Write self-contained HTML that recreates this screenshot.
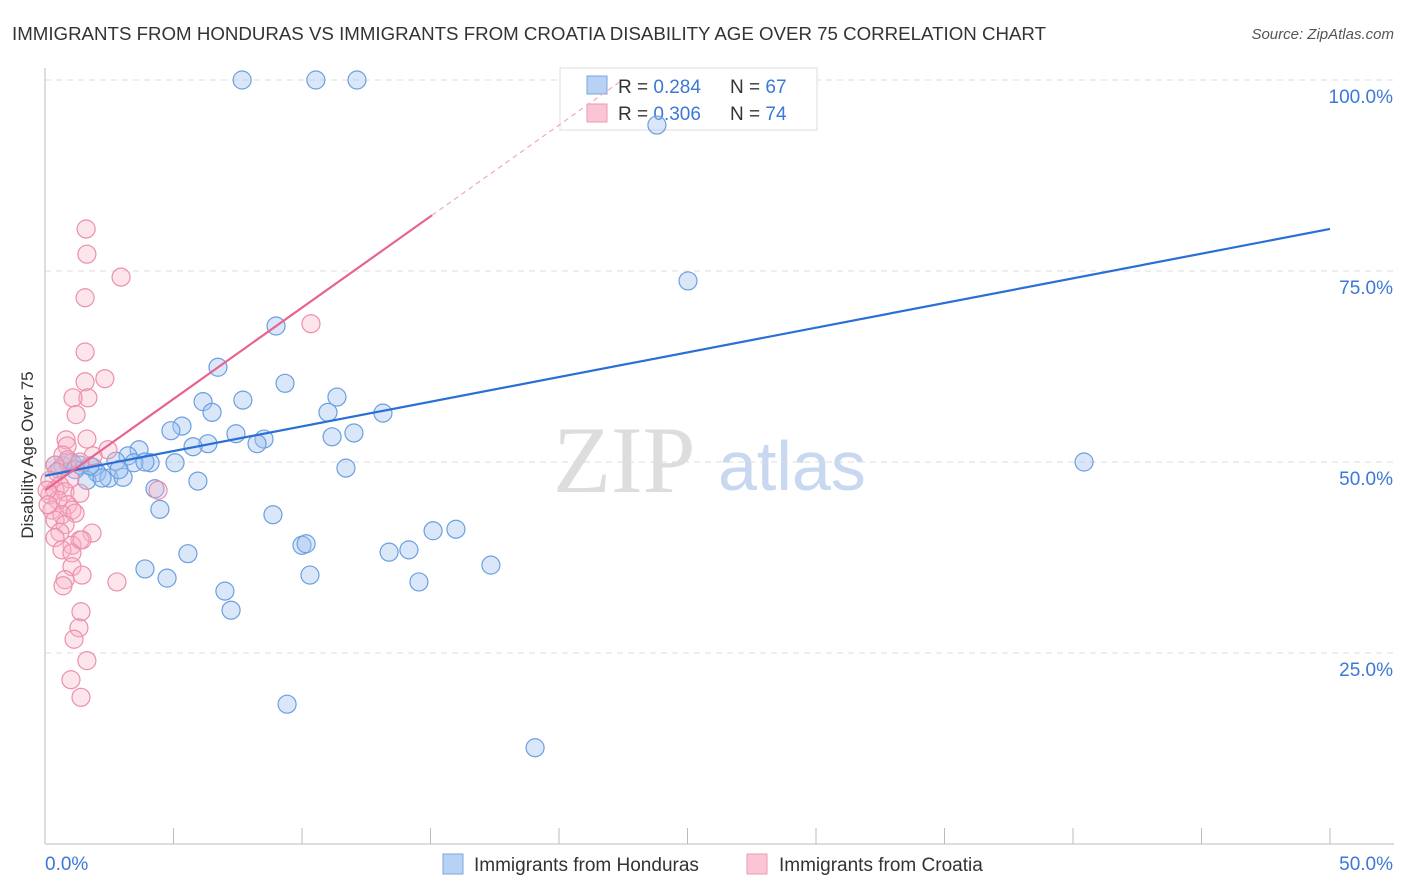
<!DOCTYPE html>
<html><head><meta charset="utf-8"><style>
body{margin:0;background:#fff;font-family:"Liberation Sans",sans-serif}
svg{display:block}
</style></head><body>
<svg id="c" width="1406" height="892" xmlns="http://www.w3.org/2000/svg">
<text x="12" y="40" font-size="18" fill="#333" textLength="1034" lengthAdjust="spacingAndGlyphs">IMMIGRANTS FROM HONDURAS VS IMMIGRANTS FROM CROATIA DISABILITY AGE OVER 75 CORRELATION CHART</text>
<text x="1394" y="39" font-size="15" fill="#555" font-style="italic" text-anchor="end">Source: ZipAtlas.com</text>
<text x="33" y="455" font-size="17" fill="#333" text-anchor="middle" transform="rotate(-90 33 455)">Disability Age Over 75</text>
<text x="553" y="492" font-size="95" fill="#ddd" font-family="Liberation Serif,serif">ZIP</text>
<text x="718" y="490" font-size="70" fill="#c8d8f0">atlas</text>
<g id="grid"></g>
<g>
<rect x="560" y="68" width="257" height="62" fill="#fff" stroke="#ddd"/>
<rect x="587" y="76" width="20" height="18" fill="#b8d2f5" stroke="#7aa6e0"/>
<rect x="587" y="104" width="20" height="18" fill="#fac5d4" stroke="#ee9ab2"/>
<text x="618" y="93" font-size="19" fill="#333">R = <tspan fill="#3b78d8">0.284</tspan></text>
<text x="730" y="93" font-size="19" fill="#333">N = <tspan fill="#3b78d8">67</tspan></text>
<text x="618" y="120" font-size="19" fill="#333">R = <tspan fill="#3b78d8">0.306</tspan></text>
<text x="730" y="120" font-size="19" fill="#333">N = <tspan fill="#3b78d8">74</tspan></text>
</g>
<g id="pts"></g><g id="lines"></g>
<g>
<rect x="443" y="854" width="20" height="20" fill="#b8d2f5" stroke="#7aa6e0"/>
<text x="474" y="871" font-size="19" fill="#333">Immigrants from Honduras</text>
<rect x="747" y="854" width="20" height="20" fill="#fac5d4" stroke="#ee9ab2"/>
<text x="779" y="871" font-size="19" fill="#333">Immigrants from Croatia</text>
</g>
</svg>
<script>
const blueX=[7.67,10.54,12.14,23.81,25.02,8.99,6.73,9.34,6.15,7.70,11.36,11.01,13.15,6.50,5.33,4.90,7.43,8.52,6.34,5.76,8.25,11.17,12.02,3.66,3.23,2.76,4.09,5.06,3.46,11.71,40.43,0.39,1.05,1.87,2.02,2.49,3.04,1.63,5.95,4.28,4.47,8.87,15.10,15.99,10.00,10.16,5.56,13.39,14.16,3.89,4.75,10.31,17.35,14.55,7.00,7.24,9.42,19.07,0.70,2.22,0.58,1.36,0.89,1.75,1.17,2.88,3.89];
const blueY=[100,100,100,94.1,73.7,67.8,62.4,60.3,57.9,58.1,58.5,56.5,56.4,56.5,54.7,54.1,53.7,53.0,52.4,52.0,52.4,53.3,53.8,51.6,50.8,50.1,49.9,49.9,49.9,49.2,50.0,49.6,49.9,49.3,48.6,47.9,48.0,47.6,47.5,46.5,43.8,43.1,41.0,41.2,39.1,39.3,38.0,38.2,38.5,36.0,34.8,35.2,36.5,34.3,33.1,30.6,18.3,12.6,49.5,47.9,49.0,49.6,50.0,49.5,49.0,49.0,50.0];
const pinkX=[1.60,1.63,2.96,1.56,10.35,1.56,2.33,1.56,1.67,1.09,1.21,0.82,1.63,0.86,2.45,1.87,0.70,0.89,1.36,0.39,0.47,0.97,0.19,0.58,0.39,0.78,1.36,0.19,4.40,0.51,0.89,0.27,1.05,0.66,1.17,0.39,0.78,0.58,1.83,1.36,0.39,1.05,0.66,1.05,1.44,1.05,1.44,0.78,2.80,0.70,1.40,1.32,1.13,1.63,1.01,1.40,0.08,0.12];
const pinkY=[80.5,77.2,74.2,71.5,68.1,64.4,60.9,60.5,58.4,58.4,56.2,52.9,53.0,52.1,51.6,50.8,50.9,50.3,50.0,49.6,48.7,47.8,47.6,46.9,46.3,46.1,45.9,45.7,46.3,45.0,44.4,43.7,43.7,43.1,43.3,42.4,41.8,40.8,40.7,39.8,40.1,39.1,38.5,38.1,39.8,36.3,35.2,34.6,34.3,33.8,30.4,28.3,26.8,24.0,21.5,19.2,46.3,44.4];
const yTicks=[25,50,75,100];
const xTicks=[0,5,10,15,20,25,30,35,40,45,50];
const blueTrend=[48.2,80.5];
const pinkTrend=[46.3,2.39];
const sx=v=>45+v*25.7, sy=v=>844-v*7.64;
const NS="http://www.w3.org/2000/svg";
function mk(t,a,p){const e=document.createElementNS(NS,t);for(const k in a)e.setAttribute(k,a[k]);p.appendChild(e);return e;}
const g=document.getElementById('grid');
yTicks.forEach(t=>{
 const l=mk('line',{x1:45,x2:1394,y1:sy(t),y2:sy(t),stroke:'#ddd','stroke-dasharray':'6,5'},g);
 
 
 const tx=mk('text',{x:1393,y:sy(t)+23,'font-size':19,fill:'#3b78d8','text-anchor':'end'},g);
 tx.textContent=t.toFixed(1)+'%';
 
 
});
mk('line',{x1:45,x2:45,y1:68,y2:844,stroke:'#bbb'},g);
mk('line',{x1:45,x2:1394,y1:844,y2:844,stroke:'#bbb'},g);
xTicks.forEach(t=>{
 const l=mk('line',{x1:sx(t),x2:sx(t),y1:828,y2:844,stroke:'#bbb'},g);
 
 
});
const xl0=mk('text',{x:45,y:870,'font-size':19,fill:'#3b78d8'},g);xl0.textContent='0.0%';


const xl1=mk('text',{x:1393,y:870,'font-size':19,fill:'#3b78d8','text-anchor':'end'},g);xl1.textContent='50.0%';


const p=document.getElementById('pts');
blueX.forEach((x,i)=>{
 const c=mk('circle',{cx:sx(x),cy:sy(blueY[i]),r:9,fill:'rgba(160,195,240,0.4)',stroke:'#6b9fe0','stroke-width':1.2},p);
 
 
});
pinkX.forEach((x,i)=>{
 const c=mk('circle',{cx:sx(x),cy:sy(pinkY[i]),r:9,fill:'rgba(248,180,200,0.35)',stroke:'#ec8fab','stroke-width':1.2},p);
 
 
});
const L=document.getElementById('lines');
const bl=mk('line',{x1:sx(0),y1:sy(blueTrend[0]),x2:sx(50),y2:sy(blueTrend[1]),stroke:'#2a6fd6','stroke-width':2.2},L);


const xe=15.06, xd=(100-pinkTrend[0])/pinkTrend[1];
const pl=mk('line',{x1:sx(0),y1:sy(pinkTrend[0]),x2:sx(xe),y2:sy(pinkTrend[0]+pinkTrend[1]*xe),stroke:'#e8638d','stroke-width':2.2},L);


const pd=mk('line',{x1:sx(xe),y1:sy(pinkTrend[0]+pinkTrend[1]*xe),x2:sx(xd),y2:sy(100),stroke:'#f0a9bf','stroke-width':1.2,'stroke-dasharray':'5,4'},L);


</script>
</body></html>
